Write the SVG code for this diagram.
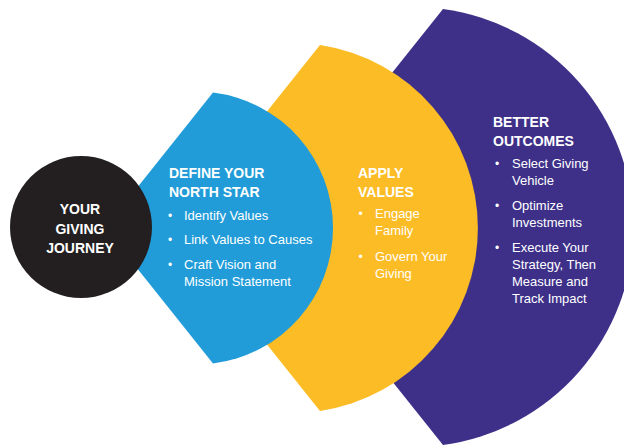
<svg xmlns="http://www.w3.org/2000/svg" width="624" height="445" viewBox="0 0 624 445">
<style>
.h{font-family:"Liberation Sans",Arial,sans-serif;font-weight:bold;font-size:14px;fill:#fff}
.t{font-family:"Liberation Sans",Arial,sans-serif;font-size:13px;fill:#fff}
.b{font-family:"Liberation Sans",Arial,sans-serif;font-size:12px;fill:#fff}
</style>
<rect width="624" height="445" fill="#fff"/>
<g id="node-outcomes">
<path d="M269 227 L443 9 A220 220 0 0 1 443 445 Z" fill="#3e3089"/>
<text class="h" x="493" y="127">BETTER</text>
<text class="h" x="493" y="146">OUTCOMES</text>
<text class="b" x="495" y="168">•</text>
<text class="t" x="512" y="168">Select Giving</text>
<text class="t" x="512" y="185">Vehicle</text>
<text class="b" x="495" y="210">•</text>
<text class="t" x="512" y="210">Optimize</text>
<text class="t" x="512" y="227">Investments</text>
<text class="b" x="495" y="252">•</text>
<text class="t" x="512" y="252">Execute Your</text>
<text class="t" x="512" y="268.5">Strategy, Then</text>
<text class="t" x="512" y="286">Measure and</text>
<text class="t" x="512" y="302.5">Track Impact</text>
</g>
<g id="node-apply">
<path d="M174 228 L320 45 A185 185 0 0 1 320 411 Z" fill="#fcbc26"/>
<text class="h" x="358" y="178">APPLY</text>
<text class="h" x="358" y="197">VALUES</text>
<text class="b" x="358.5" y="218">•</text>
<text class="t" x="375" y="218">Engage</text>
<text class="t" x="375" y="235">Family</text>
<text class="b" x="358.5" y="261">•</text>
<text class="t" x="375" y="261">Govern Your</text>
<text class="t" x="375" y="278">Giving</text>
</g>
<g id="node-define">
<path d="M105 228 L213 92.5 A136.5 136.5 0 0 1 213 363.5 Z" fill="#219cd8"/>
<text class="h" x="169" y="178">DEFINE YOUR</text>
<text class="h" x="169" y="197">NORTH STAR</text>
<text class="b" x="168" y="220">•</text>
<text class="t" x="184" y="220">Identify Values</text>
<text class="b" x="168" y="244">•</text>
<text class="t" x="184" y="244">Link Values to Causes</text>
<text class="b" x="168" y="268.5">•</text>
<text class="t" x="184" y="268.5">Craft Vision and</text>
<text class="t" x="184" y="285.5">Mission Statement</text>
</g>
<g id="node-center">
<circle cx="81" cy="227" r="71" fill="#231f20"/>
<text class="h" x="80" y="214" text-anchor="middle">YOUR</text>
<text class="h" x="80" y="233.5" text-anchor="middle">GIVING</text>
<text class="h" x="80" y="253" text-anchor="middle">JOURNEY</text>
</g>
<g id="connectors"/>
</svg>
